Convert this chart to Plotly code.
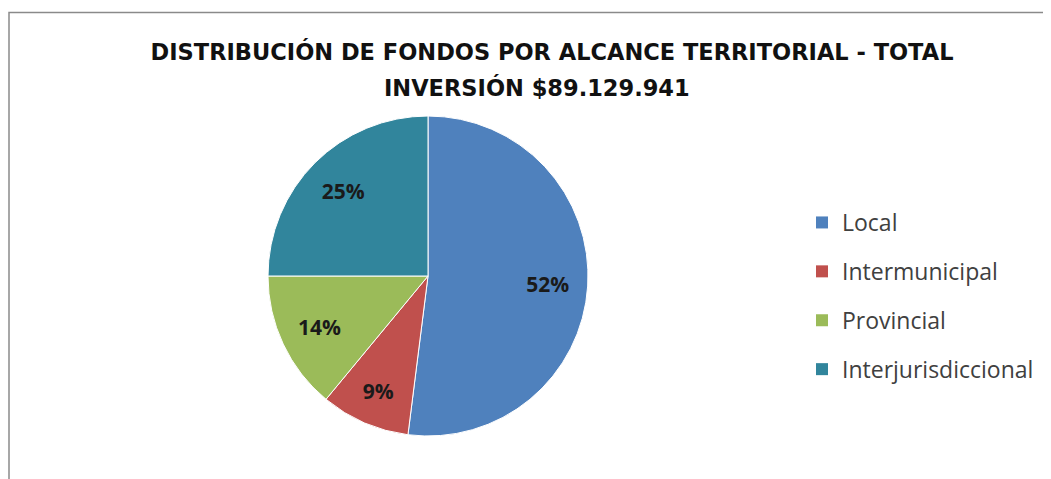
import plotly.graph_objects as go

categories = ["Local", "Intermunicipal", "Provincial", "Interjurisdiccional"]
shares = [52, 9, 14, 25]
colors = ["#4F81BD", "#C0504D", "#9BBB59", "#31859C"]
title_line1 = "DISTRIBUCIÓN DE FONDOS POR ALCANCE TERRITORIAL - TOTAL"
title_line2 = "INVERSIÓN $89.129.941"

W, H = 1051, 479
OFF = 8  # page body margin
dom = dict(x=[(268 - OFF) / W, (588 - OFF) / W],
           y=[1 - (436 - OFF) / H, 1 - (116 - OFF) / H])

fig = go.Figure()
# the pie itself
fig.add_trace(go.Pie(
    labels=categories, values=shares, sort=False,
    direction="clockwise", rotation=0,
    marker=dict(colors=colors, line=dict(color="white", width=1)),
    textinfo="none", showlegend=False, domain=dom,
    hoverinfo="label+percent",
))
# transparent ring on top carrying the percentage labels (places them toward the rim)
fig.add_trace(go.Pie(
    labels=categories, values=shares, sort=False,
    direction="clockwise", rotation=0, hole=0.5,
    marker=dict(colors=["rgba(0,0,0,0)"] * len(shares), line=dict(width=0)),
    texttemplate="%{percent:.0%}",
    textposition="inside",
    insidetextorientation="horizontal",
    textfont=dict(family="Open Sans", size=21, color="#1a1a1a", weight="bold"),
    showlegend=False, domain=dom,
    hoverinfo="skip",
))

for name, col in zip(categories, colors):
    fig.add_trace(go.Scatter(
        x=[None], y=[None], mode="markers", name=name,
        marker=dict(symbol="square", size=12, color=col),
        legendgroup=name, showlegend=True,
    ))

title_font = dict(family="DejaVu Sans", size=22.5, color="#111111", weight="bold")

fig.update_layout(
    width=W, height=H,
    margin=dict(l=0, r=0, t=0, b=0),
    paper_bgcolor="white", plot_bgcolor="white",
    xaxis=dict(visible=False), yaxis=dict(visible=False),
    title=dict(
        text=title_line1,
        x=(552 - OFF) / W, xanchor="center",
        y=1 - (52 - OFF) / H, yanchor="middle",
        font=title_font,
    ),
    annotations=[dict(
        text=title_line2, xref="paper", yref="paper",
        x=(537 - OFF) / W, xanchor="center",
        y=1 - (87 - OFF) / H, yanchor="middle",
        showarrow=False, font=title_font,
    )],
    legend=dict(
        x=(802 - OFF) / W, xanchor="left",
        y=1 - (201 - OFF) / H, yanchor="top",
        font=dict(family="Open Sans", size=23, color="#404040"),
        tracegroupgap=16,
        bgcolor="rgba(0,0,0,0)",
    ),
    shapes=[dict(type="rect", xref="paper", yref="paper",
                 x0=(9 - OFF) / W, x1=1.05, y0=-0.05, y1=1 - (12.5 - OFF) / H,
                 line=dict(color="#8a8a8a", width=1.5), fillcolor="rgba(0,0,0,0)",
                 layer="below")],
)

fig.write_html("out.html")
